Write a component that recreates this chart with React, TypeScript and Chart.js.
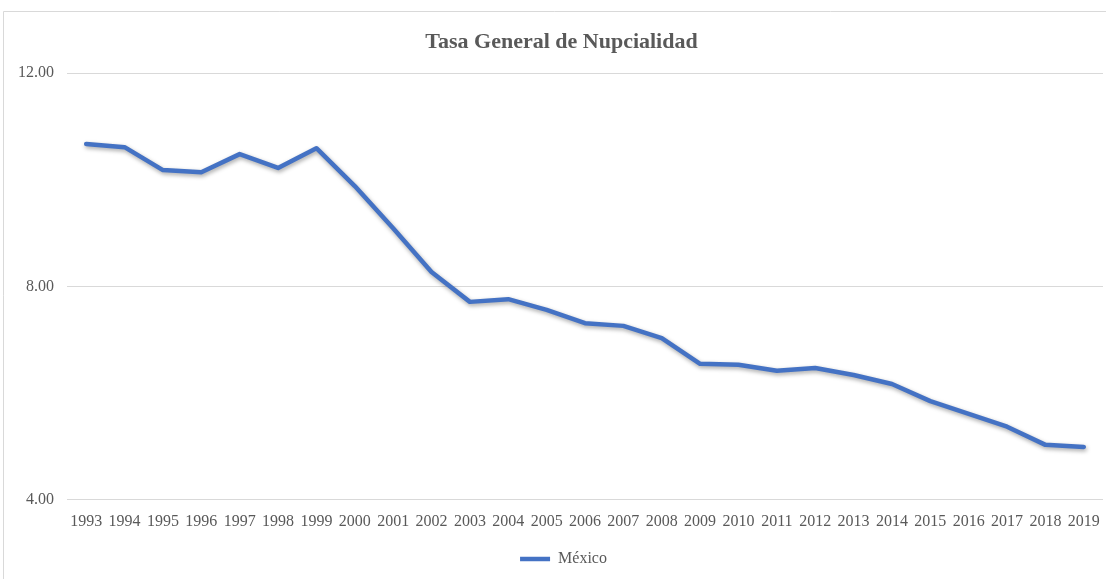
import React, { useEffect, useRef } from "react";
import { Chart, registerables } from "chart.js";

Chart.register(...registerables);

const years: string[] = [
  "1993", "1994", "1995", "1996", "1997", "1998", "1999", "2000", "2001",
  "2002", "2003", "2004", "2005", "2006", "2007", "2008", "2009", "2010",
  "2011", "2012", "2013", "2014", "2015", "2016", "2017", "2018", "2019",
];

const mexico: number[] = [
  10.67, 10.61, 10.18, 10.14, 10.48, 10.22, 10.59, 9.88, 9.09,
  8.27, 7.71, 7.76, 7.56, 7.31, 7.26, 7.03, 6.55, 6.53,
  6.42, 6.47, 6.34, 6.17, 5.85, 5.61, 5.37, 5.03, 4.99,
];

const yTicks: number[] = [4, 8, 12];

const FONT = "'Liberation Serif', 'Times New Roman', serif";
const TEXT = "#595959";

const framePlugin = {
  id: "frame",
  beforeDraw(chart: any) {
    const ctx = chart.ctx;
    ctx.save();
    ctx.fillStyle = "#ffffff";
    ctx.fillRect(0, 0, chart.width, chart.height);
    ctx.strokeStyle = "#d9d9d9";
    ctx.lineWidth = 1;
    ctx.beginPath();
    ctx.moveTo(3.5, chart.height);
    ctx.lineTo(3.5, 11.5);
    ctx.lineTo(chart.width, 11.5);
    ctx.stroke();
    ctx.restore();
  },
};

const shadowPlugin = {
  id: "lineShadow",
  beforeDatasetDraw(chart: any) {
    const ctx = chart.ctx;
    ctx.save();
    ctx.shadowColor = "rgba(0,0,0,0.35)";
    ctx.shadowBlur = 4;
    ctx.shadowOffsetX = 1;
    ctx.shadowOffsetY = 2;
  },
  afterDatasetDraw(chart: any) {
    chart.ctx.restore();
  },
};

const shiftPlugin = {
  id: "blockShift",
  afterLayout(chart: any) {
    if (chart.legend) {
      chart.legend.left += 12;
      chart.legend.right += 12;
    }
    if (chart.titleBlock) {
      chart.titleBlock.left += 10;
      chart.titleBlock.right += 10;
    }
  },
};

export default function App() {
  const ref = useRef<HTMLCanvasElement | null>(null);

  useEffect(() => {
    if (!ref.current) return;
    const chart = new Chart(ref.current, {
      type: "line",
      data: {
        labels: years,
        datasets: [
          {
            label: "México",
            data: mexico,
            borderColor: "#4472C4",
            backgroundColor: "#4472C4",
            borderWidth: 4.5,
            pointRadius: 0,
            pointHoverRadius: 0,
            tension: 0,
            borderJoinStyle: "round",
            borderCapStyle: "round",
          },
        ],
      },
      plugins: [framePlugin, shadowPlugin, shiftPlugin],
      options: {
        responsive: false,
        animation: false,
        layout: { padding: { left: 0, right: 3, top: 0, bottom: 2 } },
        plugins: {
          title: {
            display: true,
            text: "Tasa General de Nupcialidad",
            color: TEXT,
            font: { family: FONT, size: 22, weight: "bold" },
            padding: { top: 29, bottom: 17.6 },
          },
          legend: {
            display: true,
            position: "bottom",
            labels: {
              color: TEXT,
              font: { family: FONT, size: 16 },
              usePointStyle: true,
              pointStyle: "line",
              pointStyleWidth: 30,
              boxHeight: 16,
              padding: 8,
            },
          },
          tooltip: { enabled: false },
        },
        scales: {
          x: {
            offset: true,
            grid: { display: false, drawTicks: false },
            border: { display: false },
            afterFit(scale: any) {
              scale.paddingLeft = 0;
              scale.paddingRight = 0;
            },
            ticks: {
              color: TEXT,
              font: { family: FONT, size: 16 },
              padding: 12,
              maxRotation: 0,
              autoSkip: false,
            },
          },
          y: {
            min: 4,
            max: 12,
            afterBuildTicks(scale: any) {
              scale.ticks = yTicks.map((v) => ({ value: v }));
            },
            afterFit(scale: any) {
              scale.width = 67;
            },
            grid: { color: "#d9d9d9", lineWidth: 1, drawTicks: false },
            border: { display: false },
            ticks: {
              color: TEXT,
              font: { family: FONT, size: 16 },
              padding: 13,
              callback: (v: any) => Number(v).toFixed(2),
            },
          },
        },
      },
    });
    return () => chart.destroy();
  }, []);

  return (
    <div style={{ position: "fixed", left: 0, top: 0, width: 1106, height: 579, background: "#fff" }}>
      <canvas ref={ref} width={1106} height={579} style={{ display: "block" }} />
    </div>
  );
}
